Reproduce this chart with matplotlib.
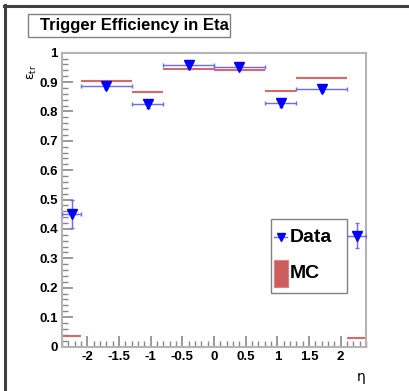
import matplotlib
matplotlib.use("Agg")
import matplotlib.pyplot as plt
from matplotlib.patches import Rectangle
from matplotlib.lines import Line2D
from matplotlib.ticker import MultipleLocator
import numpy as np

# ---- data ----
edges = [-2.4, -2.1, -1.3, -0.8, 0.0, 0.8, 1.3, 2.1, 2.4]
data_eff = [0.450, 0.888, 0.824, 0.957, 0.950, 0.828, 0.875, 0.377]
data_err = [0.048, 0.012, 0.013, 0.008, 0.008, 0.012, 0.010, 0.042]
mc_eff = [0.036, 0.905, 0.865, 0.944, 0.941, 0.870, 0.915, 0.030]
title = "Trigger Efficiency in Eta"

W, H = 409, 391
fig = plt.figure(figsize=(W / 100, H / 100), dpi=100)
plt.rcParams['font.family'] = ['Liberation Sans', 'DejaVu Sans']

def fx(px):
    return px / W

def fy(py):
    return 1 - py / H

ax = fig.add_axes([fx(62), fy(346.5), fx(366) - fx(62), fy(52.7) - fy(346.5)])
ax.set_xlim(-2.4, 2.4)
ax.set_ylim(0, 1.0)

e = np.array(edges)
lo, hi = e[:-1], e[1:]
centers = (lo + hi) / 2
halfw = (hi - lo) / 2

mc_color = '#dd6666'
ax.hlines(mc_eff, lo, hi, colors=mc_color, lw=1.5, zorder=2)

ax.errorbar(centers, data_eff, xerr=halfw, yerr=data_err, fmt='none',
            ecolor='#6a6aff', elinewidth=1.0, capsize=1.5, capthick=1.0, zorder=3)
ax.plot(centers, data_eff, linestyle='none', marker='v', color='#0000ff',
        markersize=6.5, zorder=4)

# axes style
for s in ax.spines.values():
    s.set_color('#b4b4b4')
    s.set_linewidth(1.5)
ax.xaxis.set_major_locator(MultipleLocator(0.5))
ax.xaxis.set_minor_locator(MultipleLocator(0.1))
ax.yaxis.set_major_locator(MultipleLocator(0.1))
ax.yaxis.set_minor_locator(MultipleLocator(0.02))
ax.tick_params(axis='both', which='both', direction='in', color='#888888',
               top=False, right=False)
ax.tick_params(axis='y', which='major', length=8, width=1.2, pad=3)
ax.tick_params(axis='y', which='minor', length=4.5, width=1.0)
ax.tick_params(axis='x', which='major', length=8, width=1.2, pad=3)
ax.tick_params(axis='x', which='minor', length=4.5, width=1.0)

def fmt(v):
    s = f"{v:g}"
    if s == "-0":
        s = "0"
    return s

xt = np.arange(-2, 2.01, 0.5)
ax.set_xticks(xt)
ax.set_xticklabels([fmt(round(v, 1)) for v in xt], fontsize=9.5, fontweight='bold')
yt = np.round(np.arange(0, 1.001, 0.1), 1)
ax.set_yticks(yt)
ax.set_yticklabels([fmt(v) for v in yt], fontsize=9.5, fontweight='bold')

# axis titles
fig.text(fx(32), fy(72), r'$\mathrm{\varepsilon}_{\mathrm{tr}}$', rotation=90, ha='center',
         va='center', fontsize=9)
fig.text(fx(366), fy(377), 'η', ha='right', va='center', fontsize=10,
         family=['DejaVu Sans'])

# title box
fig.patches.append(Rectangle((fx(28), fy(37)), fx(230) - fx(28), fy(14) - fy(37),
                             transform=fig.transFigure, facecolor='white',
                             edgecolor='#808080', lw=1.0))
fig.text(fx(134), fy(25.5), title, ha='center', va='center', fontsize=12,
         fontweight='bold')

# legend box
fig.patches.append(Rectangle((fx(271), fy(292.5)), fx(347) - fx(271), fy(218.5) - fy(292.5),
                             transform=fig.transFigure, facecolor='white',
                             edgecolor='#808080', lw=1.0, zorder=5))
fig.add_artist(Line2D([fx(274), fx(287)], [fy(236.5), fy(236.5)], color='#6a6aff', lw=1.0, zorder=6))
fig.add_artist(Line2D([fx(280.5)], [fy(236.5)], marker='v', color='#0000ff', markersize=6,
                      linestyle='none', zorder=7))
fig.text(fx(290), fy(237), "Data", ha='left', va='center', fontsize=14, fontweight='bold', zorder=8)
fig.patches.append(Rectangle((fx(274), fy(286.5)), fx(287.5) - fx(274), fy(260) - fy(286.5),
                             transform=fig.transFigure, facecolor='#cd5c5c',
                             edgecolor='#e08080', lw=0.8, zorder=6))
fig.text(fx(290), fy(274), "MC", ha='left', va='center', fontsize=14, fontweight='bold', zorder=8)

# canvas border (top and left)
fig.add_artist(Line2D([fx(4), fx(409)], [fy(6), fy(6)], color='#404040', lw=2.2))
fig.add_artist(Line2D([fx(5), fx(5)], [fy(5), fy(391)], color='#404040', lw=2.2))

fig.savefig('out.png', dpi=100)
